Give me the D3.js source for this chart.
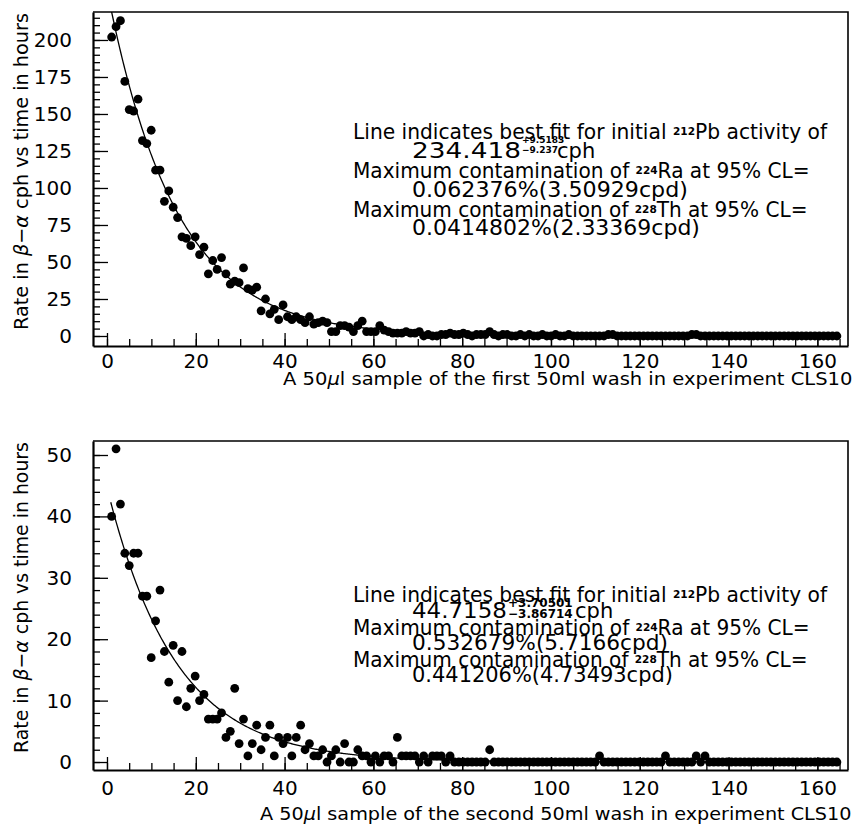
<!DOCTYPE html>
<html><head><meta charset="utf-8">
<script src="https://cdn.jsdelivr.net/npm/d3@7"></script>
<style>
body{margin:0;background:#fff}
svg text{font-family:"DejaVu Sans",sans-serif;fill:#000}
</style>
</head><body>
<svg id="c" width="857" height="825"></svg>
<script>
// ---------- data ----------
const hours = [1.05,2.04,3.03,4.02,5.01,6.00,6.99,7.98,8.97,9.96,
10.95,11.94,12.93,13.92,14.91,15.90,16.89,17.88,18.87,19.86,
20.85,21.84,22.83,23.82,24.81,25.80,26.79,27.78,28.77,29.76,
30.75,31.74,32.73,33.72,34.71,35.70,36.69,37.68,38.67,39.66,
40.65,41.64,42.63,43.62,44.61,45.60,46.59,47.58,48.57,49.56,
50.55,51.54,52.53,53.52,54.51,55.50,56.49,57.48,58.47,59.46,
60.45,61.44,62.43,63.42,64.41,65.40,66.39,67.38,68.37,69.36,
70.35,71.34,72.33,73.32,74.31,75.30,76.29,77.28,78.27,79.26,
80.25,81.24,82.23,83.22,84.21,85.20,86.19,87.18,88.17,89.16,
90.15,91.14,92.13,93.12,94.11,95.10,96.09,97.08,98.07,99.06,
100.05,101.04,102.03,103.02,104.01,105.00,105.99,106.98,107.97,108.96,
109.95,110.94,111.93,112.92,113.91,114.90,115.89,116.88,117.87,118.86,
119.85,120.84,121.83,122.82,123.81,124.80,125.79,126.78,127.77,128.76,
129.75,130.74,131.73,132.72,133.71,134.70,135.69,136.68,137.67,138.66,
139.65,140.64,141.63,142.62,143.61,144.60,145.59,146.58,147.57,148.56,
149.55,150.54,151.53,152.52,153.51,154.50,155.49,156.48,157.47,158.46,
159.45,160.44,161.43,162.42,163.41,164.40];

const firstWashRate = [202,209,213,172,153,152,160,132,130,139,
112,112,91,98,87,80,67,66,61,67,
55,60,42,51,45,53,42,35,37,36,
46,32,31,33,17,25,15,18,11,21,
13,11,13,11,9,13,8,9,10,9,
3,3,7,7,6,3,7,10,3,3,
3,7,4,3,2,2,2,3,2,2,
3,0,1,0,0,1,1,2,1,1,
2,1,0,1,1,1,3,1,0,1,
1,0,0,1,0,1,0,0,1,0,
0,1,0,0,1,0,0,0,0,0,
0,0,0,1,1,0,0,0,0,0,
0,0,0,0,0,0,0,0,0,0,
0,0,1,1,0,0,0,0,0,0,
0,0,0,0,0,0,0,0,0,0,
0,0,0,0,0,0,0,0,0,0,
0,0,0,0,0,0];

const secondWashRate = [40,51,42,34,32,34,34,27,27,17,
23,28,18,13,19,10,18,9,12,14,
10,11,7,7,7,8,4,5,12,3,
7,1,3,6,2,4,6,1,4,3,
4,1,4,6,2,3,1,1,2,0,
1,2,0,3,0,0,2,1,1,0,
1,0,1,1,0,4,1,1,1,1,
0,1,0,1,1,1,0,1,0,0,
0,0,0,0,0,0,2,0,0,0,
0,0,0,0,0,0,0,0,0,0,
0,0,0,0,0,0,0,0,0,0,
0,1,0,0,0,0,0,0,0,0,
0,0,0,0,0,0,1,0,0,0,
0,0,0,1,0,1,0,0,0,0,
0,0,0,0,0,0,0,0,0,0,
0,0,0,0,0,0,0,0,0,0,
0,0,0,0,0,0];

const xMajorTicks = [0,20,40,60,80,100,120,140,160];
const xMinorTicks = d3.range(0, 166, 5);
const firstYTicks = [0,25,50,75,100,125,150,175,200];
const firstYMinor = d3.range(0, 216, 5);
const secondYTicks = [0,10,20,30,40,50];
const secondYMinor = d3.range(0, 51, 2);

// best-fit parameters (initial 212Pb activity, cph) and 212Pb half-life (h)
const fitInitial = [234.418, 44.7158];
const fitErrUp = ["+9.5183", "+3.70501"];
const fitErrDown = ["\u22129.237", "\u22123.86714"];
const pbHalfLife = 10.64;
const raPercent = ["0.062376", "0.532679"];
const raCpd = ["3.50929", "5.7166"];
const thPercent = ["0.0414802", "0.441206"];
const thCpd = ["2.33369", "4.73493"];
const washNames = ["first", "second"];

// ---------- drawing ----------
const svg = d3.select("#c");

const panels = [
  {top:12, bottom:346, yDomain:[-6.76, 218.9], yTicks:firstYTicks, yMinor:firstYMinor,
   rate:firstWashRate, xPad:8, titleY:385, titleX0:283, titleW:570,
   yTitleC:171.5, yTitleLen:317,
   base:[139,158,178,197,217,235], w:[475,457,276,455,288], numW:109,
   sup:{x:522, y1:143, y2:153, fs:9}, cphX:557},
  {top:441, bottom:770, yDomain:[-1.3, 52.28], yTicks:secondYTicks, yMinor:secondYMinor,
   rate:secondWashRate, xPad:11, titleY:820, titleX0:260, titleW:592,
   yTitleC:597.5, yTitleLen:311,
   base:[602,618,635,650,667,682], w:[475,457,256,455,261], numW:95,
   sup:{x:508, y1:607, y2:618, fs:12}, cphX:575}
];

function scaleToWidth(sel, x0, target) {
  const w = sel.node().getBBox().width;
  sel.attr("transform", `translate(${x0},0) scale(${target / w},1) translate(${-x0},0)`);
}

function richLine(g, x, y, parts, fs) {
  const t = g.append("text").attr("x", x).attr("y", y).attr("font-size", fs);
  let shift = 0;
  parts.forEach(p => {
    const ts = t.append("tspan").text(p.t);
    const target = p.sup ? -4 : 0;
    if (target !== shift) { ts.attr("dy", target - shift); shift = target; }
    if (p.sup) ts.attr("font-size", 11).attr("font-weight", "bold");
  });
  return t;
}

panels.forEach((p, k) => {
  const L = 93, R = 848;
  const x = d3.scaleLinear().domain([-3.15, 166.9]).range([L, R]);
  const y = d3.scaleLinear().domain(p.yDomain).range([p.bottom, p.top]);
  const g = svg.append("g");

  const clipId = "clip" + k;
  svg.append("clipPath").attr("id", clipId).append("rect")
    .attr("x", L).attr("y", p.top).attr("width", R - L).attr("height", p.bottom - p.top);

  // minor ticks
  g.append("g").attr("transform", `translate(0,${p.bottom})`)
    .call(d3.axisBottom(x).tickValues(xMinorTicks).tickSize(-7).tickFormat(""))
    .call(s => s.select(".domain").remove());
  g.append("g").attr("transform", `translate(${L},0)`)
    .call(d3.axisLeft(y).tickValues(p.yMinor).tickSize(-7).tickFormat(""))
    .call(s => s.select(".domain").remove());

  // major axes
  const ax = g.append("g").attr("transform", `translate(0,${p.bottom})`)
    .call(d3.axisBottom(x).tickValues(xMajorTicks).tickSizeInner(-13).tickSizeOuter(0).tickPadding(p.xPad));
  const ay = g.append("g").attr("transform", `translate(${L},0)`)
    .call(d3.axisLeft(y).tickValues(p.yTicks).tickSizeInner(-15).tickSizeOuter(0).tickPadding(21));
  [ax, ay].forEach(a => {
    a.attr("font-family", null).attr("font-size", 20);
    a.selectAll("text").attr("fill", "#000");
    a.select(".domain").attr("stroke-width", 2.2);
  });
  g.selectAll(".tick line").attr("stroke", "#000").attr("stroke-width", 1.3);

  // top & right frame
  g.append("path")
    .attr("d", `M${L},${p.top}H${R}V${p.bottom}`)
    .attr("fill", "none").attr("stroke", "#000").attr("stroke-width", 1.6);

  // fit curve
  const lam = Math.LN2 / pbHalfLife;
  const tCurve = d3.range(0.85, 165.01, 0.25);
  g.append("path")
    .attr("clip-path", `url(#${clipId})`)
    .attr("d", d3.line().x(t => x(t)).y(t => y(fitInitial[k] * Math.exp(-lam * t)))(tCurve))
    .attr("fill", "none").attr("stroke", "#000").attr("stroke-width", 1.3);

  // data points
  g.append("g").selectAll("circle").data(p.rate).join("circle")
    .attr("cx", (d, i) => x(hours[i])).attr("cy", d => y(d)).attr("r", 4.4).attr("fill", "#000");

  // x title
  const xt = g.append("text").attr("x", p.titleX0).attr("y", p.titleY).attr("font-size", 18);
  xt.append("tspan").text("A 50");
  xt.append("tspan").attr("font-style", "italic").text("\u03bc");
  xt.append("tspan").text(`l sample of the ${washNames[k]} 50ml wash in experiment CLS10`);
  scaleToWidth(xt, p.titleX0, p.titleW);

  // y title
  const yg = g.append("g").attr("transform", `translate(28,${p.yTitleC}) rotate(-90)`);
  const yt = yg.append("text").attr("text-anchor", "middle").attr("font-size", 20);
  yt.append("tspan").text("Rate in ");
  yt.append("tspan").attr("font-style", "italic").text("\u03b2");
  yt.append("tspan").text("\u2212");
  yt.append("tspan").attr("font-style", "italic").text("\u03b1");
  yt.append("tspan").text(" cph vs time in hours");
  const yw = yt.node().getBBox().width;
  yt.attr("transform", `scale(${p.yTitleLen / yw},1)`);

  // annotation
  const FS = 21, X1 = 353, X2 = 412;
  const l1 = richLine(g, X1, p.base[0], [{t:"Line indicates best fit for initial "},{t:"212",sup:true},{t:"Pb activity of"}], FS);
  scaleToWidth(l1, X1, p.w[0]);
  const num = g.append("text").attr("x", X2).attr("y", p.base[1]).attr("font-size", FS).text(fitInitial[k]);
  scaleToWidth(num, X2, p.numW);
  g.append("text").attr("x", p.sup.x).attr("y", p.sup.y1).attr("font-size", p.sup.fs).attr("font-weight", "bold").text(fitErrUp[k]);
  g.append("text").attr("x", p.sup.x).attr("y", p.sup.y2).attr("font-size", p.sup.fs).attr("font-weight", "bold").text(fitErrDown[k]);
  g.append("text").attr("x", p.cphX).attr("y", p.base[1]).attr("font-size", FS).text("cph");
  const l3 = richLine(g, X1, p.base[2], [{t:"Maximum contamination of "},{t:"224",sup:true},{t:"Ra at 95% CL="}], FS);
  scaleToWidth(l3, X1, p.w[1]);
  const l4 = g.append("text").attr("x", X2).attr("y", p.base[3]).attr("font-size", FS).text(`${raPercent[k]}%(${raCpd[k]}cpd)`);
  scaleToWidth(l4, X2, p.w[2]);
  const l5 = richLine(g, X1, p.base[4], [{t:"Maximum contamination of "},{t:"228",sup:true},{t:"Th at 95% CL="}], FS);
  scaleToWidth(l5, X1, p.w[3]);
  const l6 = g.append("text").attr("x", X2).attr("y", p.base[5]).attr("font-size", FS).text(`${thPercent[k]}%(${thCpd[k]}cpd)`);
  scaleToWidth(l6, X2, p.w[4]);
});
</script>
</body></html>
